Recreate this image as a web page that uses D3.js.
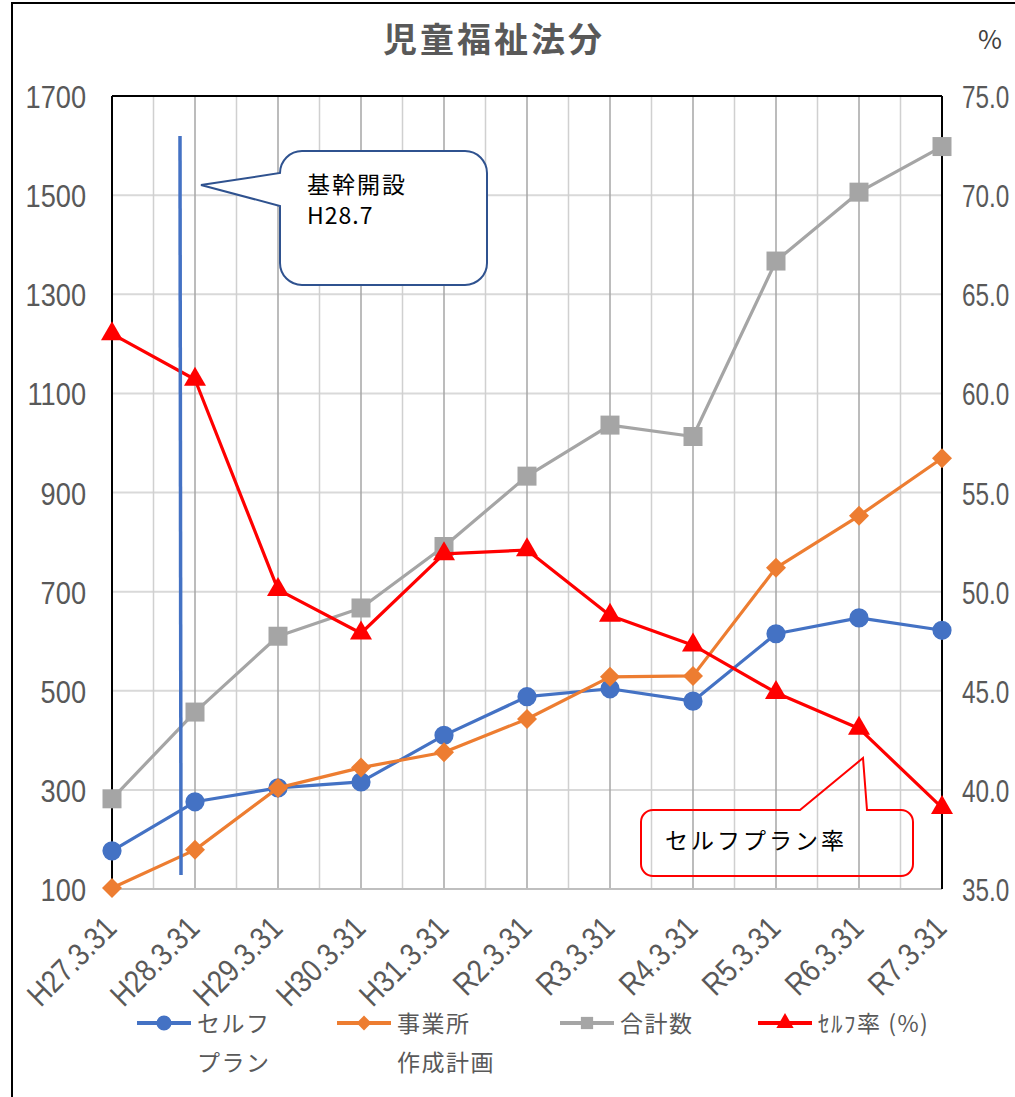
<!DOCTYPE html>
<html>
<head>
<meta charset="utf-8">
<script src="https://cdn.jsdelivr.net/npm/d3@7"></script>
<style>
  body { margin: 0; background: #fff; }
  svg { display: block; }
  .tick-num { font-family: 'Liberation Sans', sans-serif; font-size: 32px; fill: #595959; }
  .jp { font-family: 'Noto Sans CJK JP', sans-serif; }
</style>
</head>
<body>
<script>
// categories and series
const categories = ['H27.3.31', 'H28.3.31', 'H29.3.31', 'H30.3.31', 'H31.3.31', 'R2.3.31', 'R3.3.31', 'R4.3.31', 'R5.3.31', 'R6.3.31', 'R7.3.31'];
const selfPlan   = [177, 276, 304, 316, 410, 488, 504, 479, 615, 647, 622];
const jigyosho   = [102, 179, 304, 345, 376, 443, 528, 530, 748, 853, 969];
const totalCount = [282, 457, 610, 667, 791, 933, 1036, 1013, 1367, 1506, 1598];
const selfRate   = [63.0, 60.7, 50.1, 47.9, 51.9, 52.1, 48.8, 47.3, 44.9, 43.1, 39.1];
const leftTicks  = [100, 300, 500, 700, 900, 1100, 1300, 1500, 1700];
const rightTicks = [35, 40, 45, 50, 55, 60, 65, 70, 75];

const W = 1015, H = 1097;
const plotL = 112, plotR = 942, plotT = 96, plotB = 889;

const svg = d3.select('body').append('svg')
  .attr('width', W)
  .attr('height', H);

svg.append('rect').attr('width', W).attr('height', H).attr('fill', '#fff');
// outer chart frame (right/bottom edges fall outside the picture)
svg.append('rect')
  .attr('x', 12).attr('y', 3).attr('width', W + 20).attr('height', H + 20)
  .attr('fill', 'none').attr('stroke', '#000').attr('stroke-width', 2);

const x = d3.scalePoint().domain(categories).range([plotL, plotR]);
const yL = d3.scaleLinear().domain([100, 1700]).range([plotB, plotT]);
const yR = d3.scaleLinear().domain([35, 75]).range([plotB, plotT]);
const step = x.step();

// title
svg.append('text')
  .attr('class', 'jp')
  .attr('x', 494).attr('y', 52)
  .attr('text-anchor', 'middle')
  .style('font-size', '34px').style('font-weight', 'bold').style('letter-spacing', '3px')
  .attr('fill', '#595959')
  .text('児童福祉法分');

svg.append('text')
  .attr('class', 'jp')
  .attr('x', 990).attr('y', 49)
  .attr('text-anchor', 'middle')
  .style('font-size', '26px')
  .attr('fill', '#404040')
  .text('%');

// horizontal gridlines
svg.append('g').selectAll('line')
  .data(leftTicks.slice(1, -1))
  .join('line')
  .attr('x1', plotL).attr('x2', plotR)
  .attr('y1', d => yL(d)).attr('y2', d => yL(d))
  .attr('stroke', '#d9d9d9').attr('stroke-width', 2);

// minor vertical gridlines
svg.append('g').selectAll('line')
  .data(categories.slice(0, -1))
  .join('line')
  .attr('x1', d => x(d) + step / 2).attr('x2', d => x(d) + step / 2)
  .attr('y1', plotT).attr('y2', plotB)
  .attr('stroke', '#d0d0d0').attr('stroke-width', 1.5);

// major vertical gridlines
svg.append('g').selectAll('line')
  .data(categories.slice(1, -1))
  .join('line')
  .attr('x1', d => x(d)).attr('x2', d => x(d))
  .attr('y1', plotT).attr('y2', plotB)
  .attr('stroke', '#a6a6a6').attr('stroke-width', 1.5);

// plot borders
svg.append('line').attr('x1', plotL).attr('x2', plotR).attr('y1', plotB).attr('y2', plotB)
  .attr('stroke', '#bfbfbf').attr('stroke-width', 2);
svg.append('line').attr('x1', plotL).attr('x2', plotR).attr('y1', plotT).attr('y2', plotT)
  .attr('stroke', '#000').attr('stroke-width', 2);
svg.append('line').attr('x1', plotL).attr('x2', plotL).attr('y1', plotT).attr('y2', plotB)
  .attr('stroke', '#000').attr('stroke-width', 2);
svg.append('line').attr('x1', plotR).attr('x2', plotR).attr('y1', plotT).attr('y2', plotB)
  .attr('stroke', '#000').attr('stroke-width', 2);

// axes
const yAxisL = d3.axisLeft(yL).tickValues(leftTicks).tickSize(0).tickPadding(26).tickFormat(d3.format('d'));
const yAxisR = d3.axisRight(yR).tickValues(rightTicks).tickSize(0).tickPadding(20).tickFormat(d3.format('.1f'));
const xAxis = d3.axisBottom(x).tickSize(0);

const gL = svg.append('g').attr('transform', 'translate(' + plotL + ',0)').call(yAxisL);
const gR = svg.append('g').attr('transform', 'translate(' + plotR + ',0)').call(yAxisR);
const gX = svg.append('g').attr('transform', 'translate(0,' + plotB + ')').call(xAxis);
[gL, gR, gX].forEach(g => {
  g.select('.domain').remove();
  g.selectAll('text').attr('class', 'tick-num').attr('fill', null);
});
gL.selectAll('text').attr('dy', '0.36em');
gX.selectAll('text')
  .attr('y', 0).attr('dy', 0)
  .attr('text-anchor', 'end')
  .attr('transform', 'translate(6,41) rotate(-45)');
// right labels: narrow them with a horizontal scale
const kR = 0.76;
gR.selectAll('text')
  .attr('x', 20 / kR)
  .attr('dy', '0.36em')
  .attr('transform', 'scale(' + kR + ',1)');

// the original uses a narrow face: squeeze the glyphs horizontally
const squeeze = (g, k) => g.selectAll('text').each(function () {
  const len = this.getComputedTextLength();
  d3.select(this).attr('textLength', len * k).attr('lengthAdjust', 'spacingAndGlyphs');
});
squeeze(gL, 0.85);
squeeze(gX, 0.85);

// series
const series = [
  { name: 'self', values: selfPlan, scale: yL, color: '#4472C4', symbol: d3.symbolCircle, size: 290, rotate: 0 },
  { name: 'jigyo', values: jigyosho, scale: yL, color: '#ED7D31', symbol: d3.symbolSquare, size: 200, rotate: 45 },
  { name: 'total', values: totalCount, scale: yL, color: '#A5A5A5', symbol: d3.symbolSquare, size: 361, rotate: 0 },
  { name: 'rate', values: selfRate, scale: yR, color: '#FF0000', symbol: d3.symbolTriangle, size: 210, rotate: 0 }
];

series.forEach(s => {
  const line = d3.line()
    .x((d, i) => x(categories[i]))
    .y(d => s.scale(d));
  svg.append('path')
    .datum(s.values)
    .attr('d', line)
    .attr('fill', 'none')
    .attr('stroke', s.color)
    .attr('stroke-width', 3.2)
    .attr('stroke-linejoin', 'round');
  svg.append('g').selectAll('path')
    .data(s.values)
    .join('path')
    .attr('d', d3.symbol().type(s.symbol).size(s.size))
    .attr('transform', (d, i) => 'translate(' + x(categories[i]) + ',' + s.scale(d) + ') rotate(' + s.rotate + ')')
    .attr('fill', s.color);
});

// legend
const legendItems = [
  { lines: ['セルフ', 'プラン'], x: 137, s: series[0], size: 180 },
  { lines: ['事業所', '作成計画'], x: 337, s: series[1], size: 110 },
  { lines: ['合計数'], x: 560, s: series[2], size: 150 },
  { lines: ['ｾﾙﾌ率 (%)'], x: 758, s: series[3], size: 130 }
];
const legendY = 1023;
const lg = svg.append('g');
legendItems.forEach(item => {
  const g = lg.append('g').attr('transform', 'translate(' + item.x + ',' + legendY + ')');
  g.append('line').attr('x1', 0).attr('x2', 54).attr('y1', 0).attr('y2', 0)
    .attr('stroke', item.s.color).attr('stroke-width', 4);
  g.append('path')
    .attr('d', d3.symbol().type(item.s.symbol).size(item.size))
    .attr('transform', 'translate(27,0) rotate(' + item.s.rotate + ')')
    .attr('fill', item.s.color);
  item.lines.forEach((t, j) => {
    g.append('text')
      .attr('class', 'jp')
      .attr('x', 60).attr('y', 9 + j * 39)
      .style('font-size', '23px')
      .style('letter-spacing', '1.5px')
      .attr('fill', '#595959')
      .text(t);
  });
});

// red callout (transparent box)
svg.append('path')
  .attr('d', 'M653,810 H800 L863,758 L867,810 H901 A12,12 0 0 1 913,822 V864 A12,12 0 0 1 901,876 H653 A12,12 0 0 1 641,864 V822 A12,12 0 0 1 653,810 Z')
  .attr('fill', 'none').attr('stroke', '#FF0000').attr('stroke-width', 2);
svg.append('text')
  .attr('class', 'jp')
  .attr('x', 665).attr('y', 849)
  .style('font-size', '23px').style('letter-spacing', '3px')
  .attr('fill', '#000')
  .text('セルフプラン率');

// blue callout
svg.append('path')
  .attr('d', 'M302,151 H465 A22,22 0 0 1 487,173 V263 A22,22 0 0 1 465,285 H302 A22,22 0 0 1 280,263 V206 L201,185 L280,173 A22,22 0 0 1 302,151 Z')
  .attr('fill', '#fff').attr('stroke', '#2F528F').attr('stroke-width', 2);
svg.append('text')
  .attr('class', 'jp')
  .attr('x', 307).attr('y', 193)
  .style('font-size', '23px').style('letter-spacing', '2px')
  .attr('fill', '#000')
  .text('基幹開設');
svg.append('text')
  .attr('class', 'jp')
  .attr('x', 307).attr('y', 224)
  .style('font-size', '23px').style('letter-spacing', '1px')
  .attr('fill', '#000')
  .text('H28.7');

// opening marker line (H28.7)
svg.append('line')
  .attr('x1', 180).attr('x2', 181)
  .attr('y1', 136).attr('y2', 875)
  .attr('stroke', '#4472C4').attr('stroke-width', 3.5);
</script>
</body>
</html>
